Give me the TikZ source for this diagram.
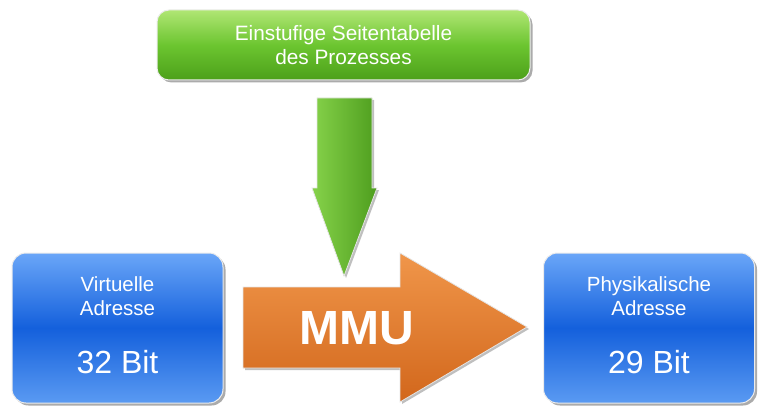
\documentclass[tikz,border=0pt]{standalone}
\usepackage{fontspec}
\setmainfont{Liberation Sans}
\usetikzlibrary{shadows}
\definecolor{bluetop}{HTML}{6AA6F8}
\definecolor{bluemid}{HTML}{1460DC}
\definecolor{bluebot}{HTML}{5A9AF2}
\definecolor{greentop}{HTML}{B0E674}
\definecolor{greenmid}{HTML}{6CC530}
\definecolor{greenbot}{HTML}{4CA01A}
\definecolor{garrowl}{HTML}{86D24A}
\definecolor{garrowm}{HTML}{6EC536}
\definecolor{garrowr}{HTML}{4E9E1E}
\definecolor{orangetop}{HTML}{F0964A}
\definecolor{orangebot}{HTML}{D2671C}
\tikzset{
  bluebox/.style={rounded corners=14pt, draw=white!85!gray, line width=1pt,
    top color=bluetop, bottom color=bluebot, middle color=bluemid,
    drop shadow={shadow xshift=2.5pt, shadow yshift=-2.5pt, fill=black!55, opacity=.6},
    minimum width=211pt, minimum height=150pt, inner sep=0pt},
  greenbox/.style={rounded corners=12pt, draw=white!85!gray, line width=1pt,
    top color=greentop, bottom color=greenbot, middle color=greenmid,
    drop shadow={shadow xshift=2.5pt, shadow yshift=-2.5pt, fill=black!55, opacity=.6},
    minimum width=373pt, minimum height=70pt, inner sep=0pt},
  txt/.style={text=white, font=\fontsize{20.5}{24}\selectfont, align=center},
  bigtxt/.style={text=white, font=\fontsize{32}{36}\selectfont},
  greenarrow/.style={draw=white!80!gray, line width=.8pt, left color=garrowl, middle color=garrowm, right color=garrowr,
    drop shadow={shadow xshift=2pt, shadow yshift=-2pt, fill=black!50, opacity=.5}},
  orangearrow/.style={draw=white!80!gray, line width=.8pt, top color=orangetop, bottom color=orangebot,
    drop shadow={shadow xshift=2pt, shadow yshift=-2pt, fill=black!50, opacity=.5}},
}
\begin{document}
\begin{tikzpicture}[x=1pt,y=-1pt]
\useasboundingbox (0,0) rectangle (769,420);
% top green box
\node[greenbox] (tab) at (343.5,45) {};
\node[txt, font=\fontsize{20.8}{24}\selectfont] (tabt) at (343.5,45) {Einstufige Seitentabelle\\des Prozesses};
% green arrow down
\path[greenarrow] (317,98) -- (372,98) -- (372,188) -- (377,188) -- (344,276) -- (312,188) -- (317,188) -- cycle;
% orange arrow
\path[orangearrow] (243,287) -- (400,287) -- (400,253) -- (527,327) -- (400,402) -- (400,368) -- (243,368) -- cycle;
\node[text=white, font=\bfseries\fontsize{48}{52}\selectfont] (mmu) at (357,328) {MMU};
% blue boxes
\node[bluebox] (va) at (117.5,328) {};
\node[txt] (vat) at (117.5,296.5) {Virtuelle\\Adresse};
\node[bigtxt] (vab) at (117.5,362) {32 Bit};
\node[bluebox] (pa) at (649,328) {};
\node[txt] (pat) at (649,296.5) {Physikalische\\Adresse};
\node[bigtxt] (pab) at (649,362) {29 Bit};
\end{tikzpicture}
\end{document}
